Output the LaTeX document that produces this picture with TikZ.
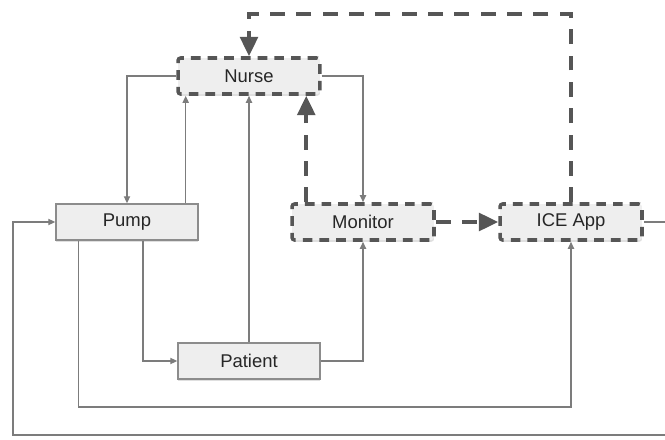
\documentclass[tikz,border=0pt]{standalone}
\usepackage{fontspec}
\setmainfont{Liberation Sans}
\usepackage{xcolor}
\usetikzlibrary{arrows.meta}
\usetikzlibrary{shadows}

\definecolor{boxfill}{HTML}{EEEEEE}
\definecolor{boxline}{HTML}{8C8C8C}
\definecolor{wirecol}{HTML}{7C7C7C}
\definecolor{dashcol}{HTML}{565656}

\begin{document}
\begin{tikzpicture}[x=0.02cm,y=-0.02cm,
		unit/.style={draw=boxline, fill=boxfill, line width=0.8pt, minimum width=2.84cm, minimum height=0.72cm, inner sep=0pt,
			font=\fontsize{10.5}{12}\selectfont, text=black!85,
			drop shadow={opacity=0.25, shadow xshift=0pt, shadow yshift=-1pt}},
		dashunit/.style={unit, draw=dashcol, line width=2pt, dash pattern=on 5.5pt off 4pt, rounded corners=1.5pt},
		wire/.style={draw=wirecol, line width=0.8pt, -{Triangle[length=4pt,width=3.5pt]}},
		bigdash/.style={draw=dashcol, line width=2.2pt, dash pattern=on 8.5pt off 6.5pt, -{Triangle[length=11pt,width=10pt]}}]
		\useasboundingbox (0,0) rectangle (665,439);
		\clip (0,0) rectangle (665,439);
		
		% the five units
		\node[dashunit] (nurse) at (249,76) {Nurse};
		\node[unit] (pump) at (127,222) {Pump};
		\node[dashunit] (monitor) at (363,222) {Monitor};
		\node[dashunit] (ice) at (571,222) {ICE App};
		\node[unit] (patient) at (249,361) {Patient};
		
		% helper points
		\coordinate (pu1) at ([xshift=-0.26cm]pump.north east);
		\coordinate (pu2) at ([xshift=0.32cm]pump.south);
		\coordinate (pu3) at ([xshift=0.46cm]pump.south west);
		\coordinate (mo1) at ([xshift=0.32cm]monitor.north west);
		\coordinate (top) at (400,14);
		\coordinate (low) at (300,407);
		\coordinate (outer) at (690,435);
		\coordinate (left) at (13,435);
		
		% thin wires
		\draw[wire] (nurse.west) -| (pump.north);
		\draw[wire] (pu1) -- (pu1 |- nurse.south);
		\draw[wire] (patient.north) -- (nurse.south);
		\draw[wire] (nurse.east) -| (monitor.north);
		\draw[wire] (pu2) |- (patient.west);
		\draw[wire] (patient.east) -| (monitor.south);
		\draw[wire] (pu3) |- (low) -| (ice.south);
		\draw[wire] (ice.east) -| (outer) -- (left) |- (pump.west);
		
		% dashed (ICE) links
		\draw[bigdash] (mo1) -- (mo1 |- nurse.south);
		\draw[bigdash] (monitor.east) -- (ice.west);
		\draw[bigdash] (ice.north) |- (top) -| (nurse.north);
	\end{tikzpicture}
\end{document}
